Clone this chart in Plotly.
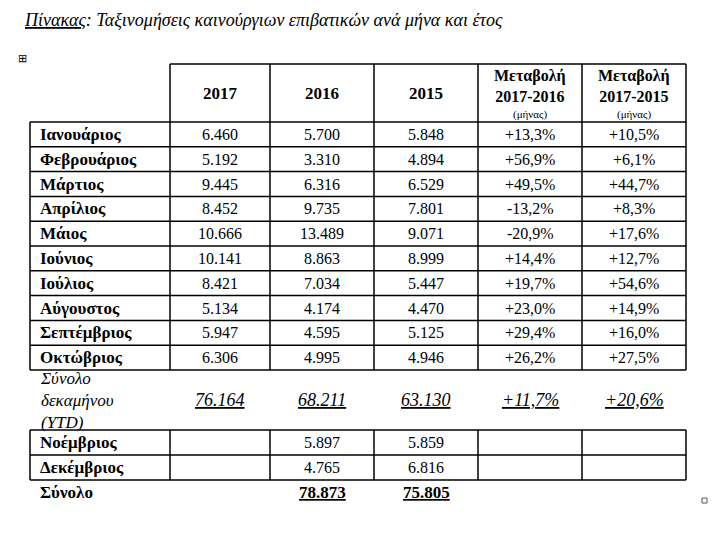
import plotly.graph_objects as go

MONTHS = ["Ιανουάριος", "Φεβρουάριος", "Μάρτιος", "Απρίλιος", "Μάιος", "Ιούνιος",
          "Ιούλιος", "Αύγουστος", "Σεπτέμβριος", "Οκτώβριος"]
V2017 = ["6.460", "5.192", "9.445", "8.452", "10.666", "10.141", "8.421", "5.134", "5.947", "6.306"]
V2016 = ["5.700", "3.310", "6.316", "9.735", "13.489", "8.863", "7.034", "4.174", "4.595", "4.995"]
V2015 = ["5.848", "4.894", "6.529", "7.801", "9.071", "8.999", "5.447", "4.470", "5.125", "4.946"]
CH16 = ["+13,3%", "+56,9%", "+49,5%", "-13,2%", "-20,9%", "+14,4%", "+19,7%", "+23,0%", "+29,4%", "+26,2%"]
CH15 = ["+10,5%", "+6,1%", "+44,7%", "+8,3%", "+17,6%", "+12,7%", "+54,6%", "+14,9%", "+16,0%", "+27,5%"]
YTD = ["76.164", "68.211", "63.130", "+11,7%", "+20,6%"]
LATE_MONTHS = ["Νοέμβριος", "Δεκέμβριος"]
LATE_2016 = ["5.897", "4.765"]
LATE_2015 = ["5.859", "6.816"]
TOTALS = ["78.873", "75.805"]
HEADERS = ["2017", "2016", "2015", "Μεταβολή<br>2017-2016", "Μεταβολή<br>2017-2015"]

FONT = "Liberation Serif"
COLX = [30, 170, 270, 374, 478, 582, 686]
CENTERS = [(COLX[i] + COLX[i + 1]) / 2 for i in range(1, 6)]
ROW_TOP, ROW_H = 122, 24.8

fig = go.Figure()
shapes, ann = [], []


def line(x0, y0, x1, y1):
    shapes.append(dict(type="line", x0=x0, y0=y0, x1=x1, y1=y1, line=dict(color="black", width=1.5)))


def text(x, y, s, size=16, bold=False, anchor="center", italic=False):
    if bold:
        s = "<b>" + s + "</b>"
    if italic:
        s = "<i>" + s + "</i>"
    ann.append(dict(x=x, y=y, text=s, showarrow=False, xanchor=anchor, yanchor="middle",
                    align=anchor if anchor != "center" else "center",
                    font=dict(family=FONT, size=size, color="black")))


# title
ann.append(dict(x=22, y=20, text="<i><u>Πίνακας</u>: Ταξινομήσεις καινούργιων επιβατικών ανά μήνα και έτος</i>",
                showarrow=False, xanchor="left", yanchor="middle",
                font=dict(family=FONT, size=18, color="black")))
text(22, 58, "⊞", size=11)
shapes.append(dict(type="rect", x0=702, y0=498, x1=707, y1=503, line=dict(color="#555", width=1)))

# header
line(170, 64, 686, 64)
for x in COLX[1:]:
    line(x, 64, x, 122)
for i, h in enumerate(HEADERS):
    if i < 3:
        text(CENTERS[i], 93, h, size=17, bold=True)
    else:
        text(CENTERS[i], 86, h, size=16, bold=True)
        text(CENTERS[i], 114, "(μήνας)", size=11)

# monthly rows
bottom = ROW_TOP + ROW_H * len(MONTHS)
for r in range(len(MONTHS) + 1):
    line(30, ROW_TOP + r * ROW_H, 686, ROW_TOP + r * ROW_H)
for x in COLX:
    line(x, ROW_TOP, x, bottom)
for r, m in enumerate(MONTHS):
    y = ROW_TOP + (r + 0.5) * ROW_H
    text(38, y, m, bold=True, anchor="left", size=17)
    for c, v in enumerate([V2017[r], V2016[r], V2015[r], CH16[r], CH15[r]]):
        text(CENTERS[c], y, v)

# YTD
text(38, 400, "Σύνολο<br>δεκαμήνου<br>(YTD)", anchor="left", italic=True, size=17)
for c, v in enumerate(YTD):
    text(CENTERS[c], 400, "<u>" + v + "</u>", size=18, italic=True)

# Nov/Dec
top2 = 430
for r in range(len(LATE_MONTHS) + 1):
    line(30, top2 + r * 25, 686, top2 + r * 25)
for x in COLX:
    line(x, top2, x, top2 + 25 * len(LATE_MONTHS))
for r, m in enumerate(LATE_MONTHS):
    y = top2 + (r + 0.5) * 25
    text(38, y, m, bold=True, anchor="left", size=17)
    text(CENTERS[1], y, LATE_2016[r])
    text(CENTERS[2], y, LATE_2015[r])

# totals
text(38, 492, "Σύνολο", bold=True, anchor="left", size=17)
for c, v in enumerate(TOTALS):
    text(CENTERS[c + 1], 492, "<u>" + v + "</u>", bold=True, size=17)

# page body adds an 8px offset, so shift the axis ranges to keep pixel coordinates
fig.update_layout(width=727, height=533, margin=dict(l=0, r=0, t=0, b=0),
                  paper_bgcolor="white", plot_bgcolor="white", showlegend=False,
                  shapes=shapes, annotations=ann)
fig.update_xaxes(range=[8, 735], visible=False, fixedrange=True)
fig.update_yaxes(range=[541, 8], visible=False, fixedrange=True)
fig.write_html("out.html")
